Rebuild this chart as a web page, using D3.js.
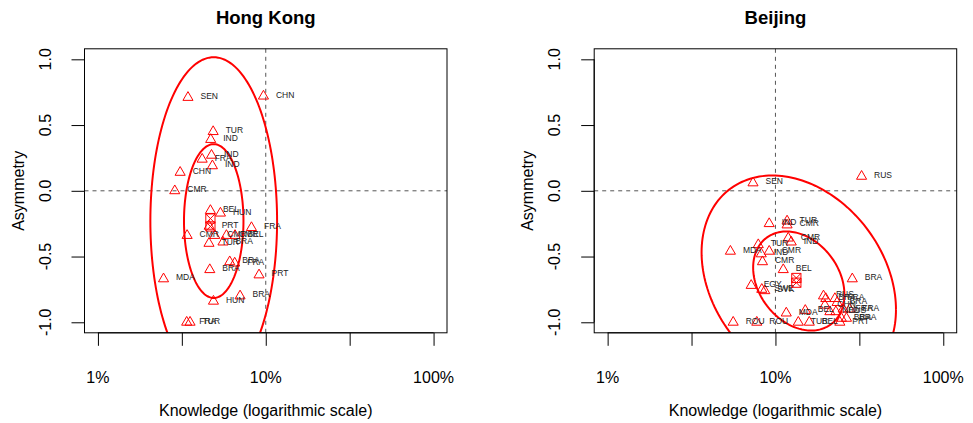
<!DOCTYPE html>
<html><head><meta charset="utf-8">
<script src="https://cdn.jsdelivr.net/npm/d3@7"></script>
<style>body{margin:0;background:#fff}svg{display:block}text{font-family:"Liberation Sans",Arial,Helvetica,sans-serif}</style>
</head><body><svg id="c" width="973" height="423"></svg>
<script>
// ---------- data ----------
const panelTitles = ["Hong Kong", "Beijing"];
const xTickValues = [1, 3.1623, 10, 31.623, 100];
const xTickLabels = ["1%", "", "10%", "", "100%"];
const yTickValues = [-1, -0.5, 0, 0.5, 1];
const yTickLabels = ["-1.0", "-0.5", "0.0", "0.5", "1.0"];

const hkLabels = ["SEN","CHN","TUR","IND","IND","FRA","IND","CHN","CMR","BEL","HUN","PRT","FRA","CMR","CMR","CMR","BEL","TUR","BRA","BRA","FRA","BRA","PRT","MDA","BRA","HUN","FRA","TUR"];
const hkKnowledge = [3.44,9.69,4.86,4.70,4.75,4.18,4.81,3.09,2.87,4.68,5.37,4.60,8.22,3.40,4.97,5.83,6.56,4.59,5.56,6.10,6.53,4.64,9.12,2.46,7.03,4.88,3.38,3.54];
const hkAsymmetry = [0.71,0.72,0.45,0.39,0.27,0.24,0.19,0.14,0.0,-0.15,-0.17,-0.27,-0.28,-0.34,-0.34,-0.34,-0.34,-0.40,-0.39,-0.54,-0.55,-0.60,-0.64,-0.67,-0.80,-0.84,-1.0,-1.0];
const hkCenterKnowledge = [4.68, 4.68];
const hkCenterAsymmetry = [-0.211, -0.271];

const bjLabels = ["SEN","RUS","IND","TUR","CMR","CMR","IND","TUR","MDA","IND","CMR","CMR","BEL","EGY","SWE","SVK","MDA","ROU","ROU","TUR","BEL","BEL","BRA","RUS","BRA","FRA","BRA","CHN","RUS","FRA","FRA","BRA","BRA","PRT","NLD"];
const bjKnowledge = [7.35,32.6,9.18,11.73,11.73,11.92,12.42,7.90,5.39,8.23,9.18,8.37,11.13,7.17,8.29,8.64,11.60,5.60,7.74,13.68,15.91,15.06,28.7,19.33,19.95,22.6,23.3,19.7,22.9,25.3,27.7,24.7,26.5,24.2,21.1];
const bjAsymmetry = [0.06,0.11,-0.25,-0.23,-0.26,-0.36,-0.39,-0.41,-0.46,-0.48,-0.46,-0.54,-0.60,-0.72,-0.75,-0.76,-0.93,-1.0,-1.0,-1.0,-1.0,-0.91,-0.67,-0.80,-0.82,-0.82,-0.85,-0.87,-0.92,-0.90,-0.90,-0.97,-0.97,-1.0,-0.92];
const bjCenterKnowledge = [13.32, 13.32];
const bjCenterAsymmetry = [-0.663, -0.699];

// ellipse parameters: centre (log10 knowledge %, asymmetry), sd's, correlation
const hkEllipse = {cx: 0.690, cy: -0.230, sx: 0.1541, sy: 0.5085, rho: 0.0};
const bjEllipse = {cx: 1.139, cy: -0.686, sx: 0.2364, sy: 0.3275, rho: -0.2715};
const ellipseRadii = [1.15, 2.45];

const panels = [
  {title: panelTitles[0], k: hkKnowledge, a: hkAsymmetry, lab: hkLabels, ck: hkCenterKnowledge, ca: hkCenterAsymmetry, ell: hkEllipse},
  {title: panelTitles[1], k: bjKnowledge, a: bjAsymmetry, lab: bjLabels, ck: bjCenterKnowledge, ca: bjCenterAsymmetry, ell: bjEllipse}
];

// ---------- drawing ----------
const svg = d3.select("#c");
const offsets = [0, 509.7];
const boxL = 84.5, boxR = 447, boxT = 48.8, boxB = 332.8;
const RED = "#FF0000";

panels.forEach((p, i) => {
  const g = svg.append("g").attr("transform", `translate(${offsets[i]},0)`);
  const x = d3.scaleLog().domain([Math.pow(10, -0.08), Math.pow(10, 2.08)]).range([boxL, boxR]);
  const y = d3.scaleLinear().domain([-1.08, 1.08]).range([boxB, boxT]);

  const clipId = "clip" + i;
  g.append("clipPath").attr("id", clipId).append("rect")
    .attr("x", boxL).attr("y", boxT).attr("width", boxR - boxL).attr("height", boxB - boxT);

  // reference lines
  g.append("line").attr("x1", boxL).attr("x2", boxR).attr("y1", y(0)).attr("y2", y(0))
    .attr("stroke", "#555").attr("stroke-dasharray", "4,4");
  g.append("line").attr("x1", x(10)).attr("x2", x(10)).attr("y1", boxT).attr("y2", boxB)
    .attr("stroke", "#555").attr("stroke-dasharray", "4,4");

  // ellipses
  const e = p.ell;
  const th = d3.range(0, 2 * Math.PI + 0.001, Math.PI / 90);
  const plot = g.append("g").attr("clip-path", `url(#${clipId})`);
  ellipseRadii.forEach(r => {
    const pts = th.map(t => {
      const lx = e.cx + r * e.sx * Math.cos(t);
      const ly = e.cy + r * e.sy * (e.rho * Math.cos(t) + Math.sqrt(1 - e.rho * e.rho) * Math.sin(t));
      return [x(Math.pow(10, lx)), y(ly)];
    });
    plot.append("path").attr("d", d3.line()(pts)).attr("fill", "none")
      .attr("stroke", RED).attr("stroke-width", 2);
  });

  // points (R pch 2 triangles)
  const xc = 3.75;
  const tri = `M0,${-1.555 * xc} L${1.347 * xc},${0.778 * xc} L${-1.347 * xc},${0.778 * xc} Z`;
  p.k.forEach((kv, j) => {
    plot.append("path").attr("d", tri)
      .attr("transform", `translate(${x(kv)},${y(p.a[j])})`)
      .attr("fill", "none").attr("stroke", RED).attr("stroke-width", 1);
  });
  p.k.forEach((kv, j) => {
    g.append("text").attr("x", x(kv) + 12.5).attr("y", y(p.a[j]) - 1.5)
      .attr("dominant-baseline", "central").attr("font-size", 8.5).attr("fill", "#222")
      .text(p.lab[j]);
  });

  // centre markers (square with cross)
  const h = 4.6;
  p.ck.forEach((kv, j) => {
    const cx = x(kv), cy = y(p.ca[j]);
    g.append("path")
      .attr("d", `M${cx - h},${cy - h}h${2 * h}v${2 * h}h${-2 * h}Z M${cx - h},${cy - h}L${cx + h},${cy + h} M${cx + h},${cy - h}L${cx - h},${cy + h}`)
      .attr("fill", "none").attr("stroke", RED).attr("stroke-width", 1);
  });

  // box
  g.append("rect").attr("x", boxL).attr("y", boxT).attr("width", boxR - boxL).attr("height", boxB - boxT)
    .attr("fill", "none").attr("stroke", "#000").attr("stroke-width", 1);

  // axes
  const xAxis = d3.axisBottom(x).tickValues(xTickValues).tickSize(13).tickPadding(0)
    .tickFormat((d, k) => "");
  const xa = g.append("g").attr("transform", `translate(0,${boxB})`).call(xAxis);
  xa.select(".domain").remove();
  xa.selectAll("line").attr("stroke", "#000");
  xTickValues.forEach((v, k) => {
    if (xTickLabels[k]) g.append("text").attr("x", x(v)).attr("y", 377).attr("text-anchor", "middle")
      .attr("dominant-baseline", "central").attr("font-size", 16).attr("fill", "#000").text(xTickLabels[k]);
  });
  g.append("line").attr("x1", x(1)).attr("x2", x(100)).attr("y1", boxB).attr("y2", boxB).attr("stroke", "#000");

  const yAxis = d3.axisLeft(y).tickValues(yTickValues).tickSize(13).tickFormat(() => "");
  const ya = g.append("g").attr("transform", `translate(${boxL},0)`).call(yAxis);
  ya.select(".domain").remove();
  ya.selectAll("line").attr("stroke", "#000");
  yTickValues.forEach((v, k) => {
    g.append("text").attr("transform", `translate(45,${y(v)}) rotate(-90)`).attr("text-anchor", "middle")
      .attr("dominant-baseline", "central").attr("font-size", 16).attr("fill", "#000").text(yTickLabels[k]);
  });
  g.append("line").attr("x1", boxL).attr("x2", boxL).attr("y1", y(-1)).attr("y2", y(1)).attr("stroke", "#000");

  // titles
  const mid = (boxL + boxR) / 2;
  g.append("text").attr("x", mid).attr("y", 17).attr("text-anchor", "middle").attr("dominant-baseline", "central")
    .attr("font-size", 18.5).attr("font-weight", "bold").attr("fill", "#000").text(p.title);
  g.append("text").attr("x", mid).attr("y", 410).attr("text-anchor", "middle").attr("dominant-baseline", "central")
    .attr("font-size", 16).attr("fill", "#000").text("Knowledge (logarithmic scale)");
  g.append("text").attr("transform", `translate(18,${(boxT + boxB) / 2}) rotate(-90)`).attr("text-anchor", "middle")
    .attr("dominant-baseline", "central").attr("font-size", 16).attr("fill", "#000").text("Asymmetry");
});
</script></body></html>
